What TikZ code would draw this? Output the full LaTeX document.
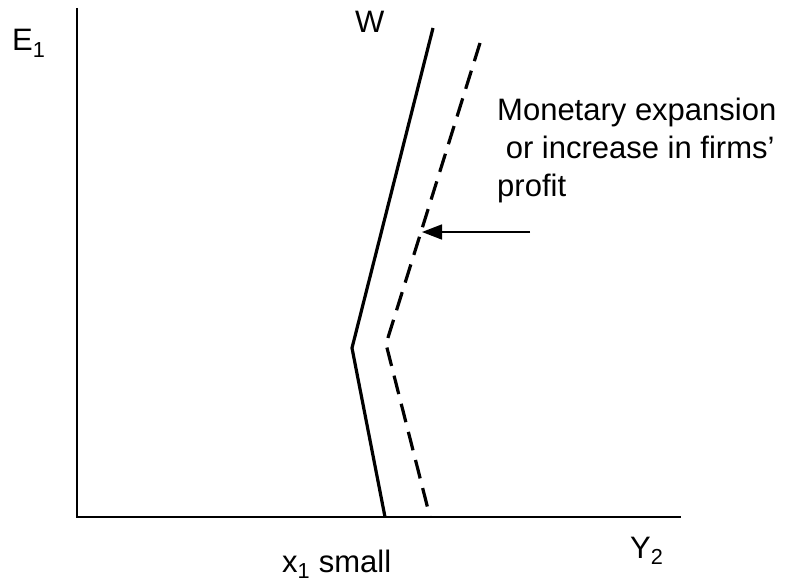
\documentclass[tikz,border=0pt]{standalone}
\usepackage{fontspec}
\setmainfont{Liberation Sans}
\usetikzlibrary{arrows.meta}
\begin{document}
\begin{tikzpicture}[x=1pt,y=-1pt,
  axis/.style={line width=1.6pt},
  curve/.style={line width=3.2pt},
  dcurve/.style={line width=3.2pt, dash pattern=on 19pt off 10pt},
  lbl/.style={font=\fontsize{31}{37}\selectfont, inner sep=0pt, anchor=base west},
  shiftarrow/.style={line width=1.6pt, -{Triangle[length=20pt,width=15pt]}}]
\useasboundingbox (0,0) rectangle (792,586);
\coordinate (top) at (77,8);
\coordinate (origin) at (77,517);
\coordinate (right) at (681,517);
\draw[axis] (top) -- (origin) -- (right);
\coordinate (s1) at (433,28);
\coordinate (s2) at (352,348);
\coordinate (s3) at (385,517);
\draw[curve] (s1) -- (s2) -- (s3);
\coordinate (d1) at (480,43);
\coordinate (d2) at (386,344);
\coordinate (d3) at (430,517);
\draw[dcurve] (d1) -- (d2) -- (d3);
\coordinate (as) at (530,232);
\coordinate (ae) at (422,232);
\draw[shiftarrow] (as) -- (ae);
\node[lbl] (e1) at (12,51) {E\textsubscript{1}};
\node[lbl] (w) at (355,33) {W};
\node[lbl] (t1) at (497,120) {Monetary expansion};
\node[lbl] (t2) at (497,158) {\ or increase in firms’};
\node[lbl] (t3) at (497,196) {profit};
\node[lbl] (x1) at (282,572) {x\textsubscript{1} small};
\node[lbl] (y2) at (630,558) {Y\textsubscript{2}};
\end{tikzpicture}
\end{document}
